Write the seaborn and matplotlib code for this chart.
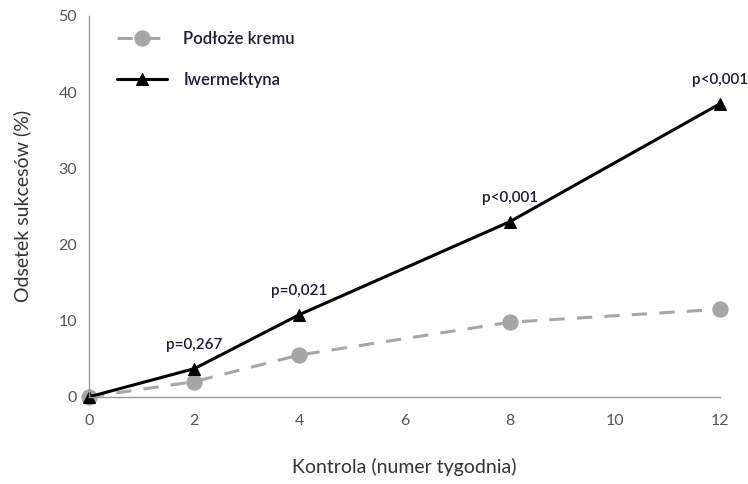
import pandas as pd
import seaborn as sns
import matplotlib.pyplot as plt

# Data
weeks = [0, 2, 4, 8, 12]
podloze = [0, 2.0, 5.5, 9.8, 11.5]
iwermektyna = [0, 3.7, 10.8, 23.0, 38.5]
p_labels = ['p=0,267', 'p=0,021', 'p<0,001', 'p<0,001']
p_weeks = [2, 4, 8, 12]

sns.set_theme(style='white')
plt.rcParams['font.family'] = ['Lato', 'DejaVu Sans']

text_col = '#1c1c3a'
spine_col = '#9a9a9a'

df = pd.DataFrame({'week': weeks, 'Podłoże kremu': podloze,
                   'Iwermektyna': iwermektyna})

fig = plt.figure(figsize=(7.48, 4.84), dpi=100)
ax = fig.add_axes([0.119, 0.18, 0.844, 0.787])

sns.lineplot(data=df, x='week', y='Podłoże kremu', ax=ax, color='#a6a6a6',
             linestyle=(0, (5, 4)), linewidth=2.2, marker='o', markersize=11,
             markeredgecolor='#a6a6a6', label='Podłoże kremu', clip_on=False)
sns.lineplot(data=df, x='week', y='Iwermektyna', ax=ax, color='black',
             linewidth=2.2, marker='^', markersize=8, markeredgecolor='black',
             label='Iwermektyna', clip_on=False)

# p-value annotations above the Iwermektyna points
for w, lab in zip(p_weeks, p_labels):
    v = iwermektyna[weeks.index(w)]
    ax.annotate(lab, (w, v), xytext=(0, 12), textcoords='offset points',
                ha='center', va='bottom', fontsize=11, color=text_col,
                fontweight='semibold')

ax.set_xlim(0, 12)
ax.set_ylim(0, 50)
ax.set_xticks([0, 2, 4, 6, 8, 10, 12])
ax.set_yticks([0, 10, 20, 30, 40, 50])
ax.set_xlabel('Kontrola (numer tygodnia)', fontsize=14, color='#333333',
              labelpad=22)
ax.set_ylabel('Odsetek sukcesów (%)', fontsize=14, color='#333333',
              labelpad=20)

sns.despine(ax=ax)
for s in ['left', 'bottom']:
    ax.spines[s].set_color(spine_col)
    ax.spines[s].set_linewidth(1)
ax.tick_params(axis='y', direction='out', length=5, color=spine_col,
               labelsize=11.5, labelcolor='#555555')
ax.tick_params(axis='x', direction='in', length=5, color=spine_col,
               labelsize=11.5, labelcolor='#555555', pad=12)

leg = ax.legend(loc='upper left', bbox_to_anchor=(0.02, 1.0), frameon=False,
                fontsize=12, handlelength=3.0, labelspacing=1.5,
                handletextpad=1.0)
for t in leg.get_texts():
    t.set_color(text_col)
    t.set_fontweight('semibold')

fig.savefig('out.png', dpi=100)
